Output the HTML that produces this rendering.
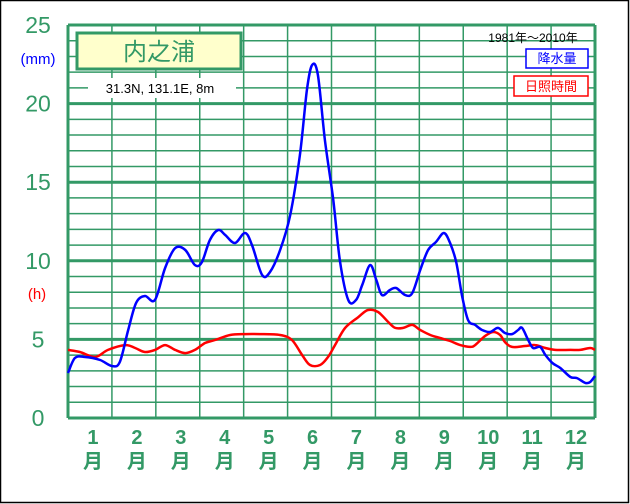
<!DOCTYPE html>
<html><head><meta charset="utf-8"><style>
html,body{margin:0;padding:0;background:#fff}
svg{display:block;font-family:"Liberation Sans","Noto Sans CJK JP",sans-serif}
</style></head><body>
<svg id="chart" width="630" height="504" viewBox="0 0 630 504">
<rect x="0.5" y="0.5" width="628" height="502" fill="#fff" stroke="#000" stroke-width="1.5"/>
<g id="grid"></g>
<g id="ylabels"></g>
<g id="xlabels"></g>
<g id="series"></g>
<rect x="77" y="33" width="164" height="36" fill="#ffffcc" stroke="#339966" stroke-width="3"/>
<text x="159" y="60" font-size="24" fill="#339966" text-anchor="middle">内之浦</text>
<rect x="88" y="78" width="148" height="20" fill="#fff"/>
<text x="160" y="93" font-size="13" fill="#000" text-anchor="middle">31.3N,  131.1E,  8m</text>
<text x="533" y="42" font-size="12" fill="#000" text-anchor="middle">1981年～2010年</text>
<rect x="526" y="49" width="62" height="19" fill="#fff" stroke="#0000ff" stroke-width="1.5"/>
<text x="557" y="63" font-size="13" fill="#0000ff" text-anchor="middle">降水量</text>
<rect x="514" y="76" width="74" height="20" fill="#fff" stroke="#ff0000" stroke-width="1.5"/>
<text x="551" y="91" font-size="13" fill="#ff0000" text-anchor="middle">日照時間</text>
<text x="38" y="64" font-size="15" fill="#0000ff" text-anchor="middle">(mm)</text>
<text x="37" y="299" font-size="15" fill="#ff0000" text-anchor="middle">(h)</text>
</svg>
<script>
const yTicks=[0,5,10,15,20,25];
const months=["1","2","3","4","5","6","7","8","9","10","11","12"];
const precipPos=[0,.16,.39,.73,1.0,1.18,1.37,1.55,1.75,1.98,2.21,2.44,2.67,2.89,3.05,3.23,3.42,3.58,3.80,4.03,4.19,4.42,4.60,4.83,5.06,5.28,5.44,5.56,5.69,5.85,6.04,6.19,6.38,6.56,6.70,6.88,7.02,7.15,7.33,7.47,7.68,7.84,8.02,8.20,8.38,8.56,8.70,8.84,8.97,9.11,9.27,9.43,9.61,9.79,9.95,10.11,10.25,10.34,10.48,10.59,10.75,10.87,11.03,11.21,11.44,11.59,11.78,11.89,12];
const precipVal=[2.86,3.82,3.88,3.69,3.31,3.56,5.6,7.32,7.76,7.51,9.54,10.81,10.69,9.73,9.92,11.32,11.96,11.64,11.13,11.77,11.0,9.1,9.29,10.69,12.91,16.73,20.87,22.46,21.82,17.68,13.87,10.05,7.51,7.51,8.46,9.73,8.78,7.82,8.14,8.27,7.82,7.95,9.41,10.69,11.2,11.77,11.13,9.92,7.82,6.23,5.92,5.6,5.47,5.73,5.41,5.34,5.6,5.73,4.96,4.45,4.52,4.01,3.5,3.18,2.61,2.54,2.23,2.29,2.67];
const sunPos=[0,.27,.62,.91,1.30,1.53,1.75,1.98,2.21,2.44,2.67,2.89,3.12,3.35,3.69,4.03,4.37,4.83,5.10,5.33,5.51,5.74,5.92,6.08,6.31,6.61,6.83,7.06,7.29,7.45,7.63,7.84,8.02,8.25,8.47,8.70,8.93,9.16,9.27,9.50,9.68,9.84,9.95,10.11,10.41,10.64,10.87,11.09,11.44,11.66,11.89,12];
const sunVal=[4.33,4.2,3.88,4.33,4.64,4.45,4.2,4.33,4.64,4.33,4.13,4.33,4.77,4.96,5.28,5.34,5.34,5.28,4.96,4.01,3.37,3.37,3.88,4.64,5.73,6.42,6.87,6.74,6.11,5.73,5.73,5.92,5.6,5.28,5.09,4.9,4.64,4.52,4.64,5.22,5.47,5.28,4.83,4.52,4.58,4.64,4.45,4.33,4.33,4.33,4.45,4.33];
const X0=68,X1=595,Y0=418,Y1=25,YMAX=25;
const xs=m=>X0+(X1-X0)*m/12;
const ys=v=>Y0-(Y0-Y1)*v/YMAX;
const NS="http://www.w3.org/2000/svg";
function mk(tag,parent){const e=document.createElementNS(NS,tag);parent.appendChild(e);return e;}
const G="#339966";
const grid=document.getElementById('grid');
for(let v=0;v<=YMAX;v++){
  const l=mk('line',grid);
  
  
  l.setAttribute('x1',X0);l.setAttribute('x2',X1);l.setAttribute('y1',ys(v));l.setAttribute('y2',ys(v));
  l.setAttribute('stroke',G);l.setAttribute('stroke-width',v%5===0?3:1.5);
}
for(let m=0;m<=12;m++){
  const l=mk('line',grid);
  
  
  l.setAttribute('x1',xs(m));l.setAttribute('x2',xs(m));l.setAttribute('y1',Y1);l.setAttribute('y2',Y0);
  l.setAttribute('stroke',G);l.setAttribute('stroke-width',(m===0||m===12)?3:1.5);
}
const yl=document.getElementById('ylabels');
yTicks.forEach(v=>{
  const t=mk('text',yl);
  
  
  t.setAttribute('x',38);t.setAttribute('y',ys(v)+8);t.setAttribute('text-anchor','middle');
  t.setAttribute('font-size','23');t.setAttribute('fill',G);t.textContent=v;
});
const xl=document.getElementById('xlabels');
months.forEach((m,i)=>{
  const cx=xs(i+0.5)+3;
  const t=mk('text',xl);
  
  
  t.setAttribute('x',cx);t.setAttribute('y',444);t.setAttribute('text-anchor','middle');
  t.setAttribute('font-size','20');t.setAttribute('font-weight','bold');t.setAttribute('fill',G);t.textContent=m;
  const u=mk('text',xl);
  
  
  u.setAttribute('x',cx);u.setAttribute('y',468);u.setAttribute('text-anchor','middle');
  u.setAttribute('font-size','20');u.setAttribute('font-weight','bold');u.setAttribute('fill',G);u.textContent='月';
});
const sg=document.getElementById('series');
function line(pos,vals,color,name){
  const pts=pos.map((m,i)=>[xs(m),ys(vals[i])]);
  let d='M'+pts[0][0].toFixed(1)+','+pts[0][1].toFixed(1);
  for(let i=0;i<pts.length-1;i++){
    const p0=pts[Math.max(0,i-1)],p1=pts[i],p2=pts[i+1],p3=pts[Math.min(pts.length-1,i+2)];
    const c1x=p1[0]+(p2[0]-p0[0])/6,c1y=p1[1]+(p2[1]-p0[1])/6;
    const c2x=p2[0]-(p3[0]-p1[0])/6,c2y=p2[1]-(p3[1]-p1[1])/6;
    d+=' C'+c1x.toFixed(1)+','+c1y.toFixed(1)+' '+c2x.toFixed(1)+','+c2y.toFixed(1)+' '+p2[0].toFixed(1)+','+p2[1].toFixed(1);
  }
  const p=mk('path',sg);
  
  
  p.setAttribute('d',d);
  p.setAttribute('fill','none');p.setAttribute('stroke',color);p.setAttribute('stroke-width','2.5');
  p.setAttribute('stroke-linejoin','round');
}
line(sunPos,sunVal,'#ff0000','sunshine-line');
line(precipPos,precipVal,'#0000ff','precipitation-line');
</script>
</body></html>
